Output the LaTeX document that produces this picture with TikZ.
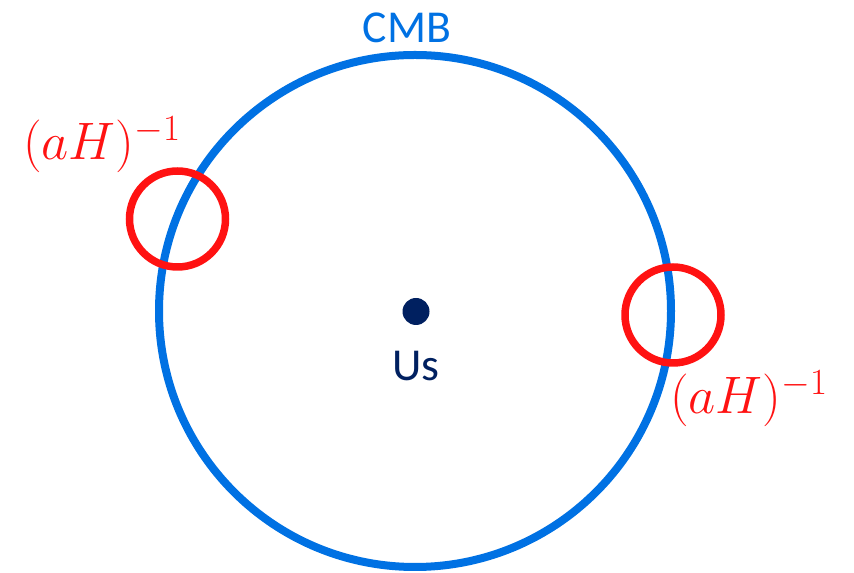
\RequirePackage{fix-cm}
\documentclass[tikz,border=0pt]{standalone}
\usepackage{amsmath}
\usepackage{fontspec}
\setmainfont{Carlito}
\usepackage{tikz}
\usetikzlibrary{positioning}
\definecolor{cmbblue}{RGB}{0,113,227}
\definecolor{horred}{RGB}{255,18,18}
\definecolor{usnavy}{RGB}{0,32,96}

\begin{document}
\begin{tikzpicture}[
  sky/.style={circle, draw=cmbblue, line width=0.16cm, minimum size=10.24cm, inner sep=0pt},
  horizon/.style={circle, draw=horred, line width=0.15cm, minimum size=1.92cm, inner sep=0pt},
  dot/.style={circle, fill=usnavy, minimum size=0.54cm, inner sep=0pt},
  hlabel/.style={text=horred, font=\fontsize{30}{36}\selectfont, inner sep=0pt},
  tag/.style={font=\fontsize{26}{30}\selectfont, inner sep=0pt}
]
  \useasboundingbox (0,0) rectangle (17.08,11.46);
  \node[sky] (cmb) at (8.30,5.24) {};
  \node[horizon] (hleft) at (3.55,7.08) {};
  \node[horizon] (hright) at (13.46,5.16) {};
  \node[dot] (us) at (8.32,5.23) {};
  \node[tag, text=usnavy] (uslabel) at (8.32,4.14) {Us};
  \node[tag, text=cmbblue] (cmblabel) at (8.14,10.90) {CMB};
  \node[hlabel] (lleft) at (2.04,8.56) {$(aH)^{-1}$};
  \node[hlabel] (lright) at (14.98,3.48) {$(aH)^{-1}$};
\end{tikzpicture}
\end{document}
